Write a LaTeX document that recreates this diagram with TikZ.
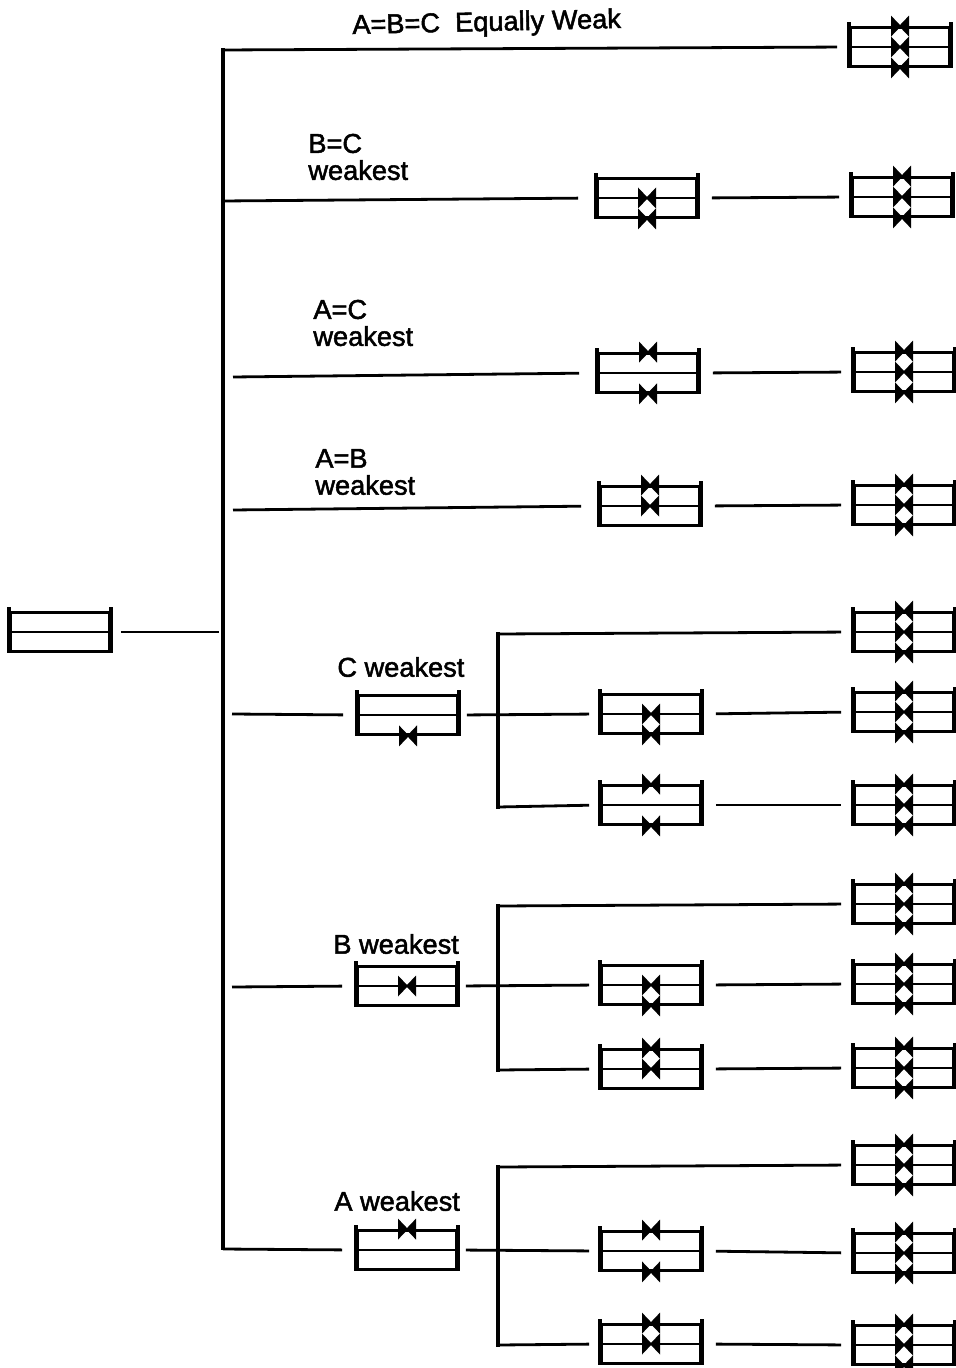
\documentclass[tikz,border=0pt]{standalone}
\usepackage{fontspec}
\setmainfont{Liberation Sans}[FakeBold=1.8]
\usetikzlibrary{arrows.meta, positioning}
\tikzset{
  plate/.style  = {rectangle, draw, line width=1.4pt, inner sep=0pt,
                   minimum width=49.5pt, minimum height=19.5pt,
                   append after command={
                     (\tikzlastnode.west) edge[line width=1.4pt] (\tikzlastnode.east)
                     ([yshift=2pt]\tikzlastnode.north west) edge[line width=2.2pt] (\tikzlastnode.south west)
                     ([yshift=2pt]\tikzlastnode.north east) edge[line width=1.7pt] (\tikzlastnode.south east)}},
  link/.style   = {line width=1.4pt, shorten <=9pt, shorten >=6pt},
  barlink/.style= {line width=1.4pt, shorten >=9pt},
  bar/.style    = {line width=2.2pt, line cap=rect},
  weakest/.style= {anchor=west, align=left, inner sep=0pt,
                   font=\fontsize{13.6}{13.5}\selectfont},
  pics/weld/.style = {code={
    \fill (-9,-10.5) .. controls (-4,-5) .. (1,0) .. controls (-4,5) .. (-9,10.5) -- cycle;
    \fill (9,-10.5) .. controls (4,-5) .. (-1,0) .. controls (4,5) .. (9,10.5) -- cycle;}},
}
\begin{document}
\begin{tikzpicture}[x=0.5pt, y=-0.5pt]
\useasboundingbox (0,0) rectangle (955,1368);

% plates
\node[plate] (start) at (60,632) {};
\foreach \n/\x/\y in {pBC/647/198, pAC/648/373, pAB/650/506,
                      pC/408/715, pCm/651/714, pCb/651/805,
                      pB/407/986, pBm/651/985, pBb/651/1069,
                      pA/407/1250, pAm/651/1251, pAb/651/1344} {
  \node[plate] (\n) at (\x,\y) {};
}
\foreach \n/\x/\y in {fEq/900/47, fBC/902/197, fAC/904/372, fAB/904/505,
                      fCt/904/632, fCm/904/712, fCb/904/805,
                      fBt/904/904, fBm/904/984, fBb/904/1068,
                      fAt/904/1165, fAm/904/1253, fAb/904/1345} {
  \node[plate] (\n) at (\x,\y) {};
  \foreach \w in {north, center, south} \pic at (\n.\w) {weld};
}

% welds
\foreach \n/\w in {pBC/center, pBC/south, pAC/north, pAC/south, pAB/north, pAB/center,
                   pC/south, pCm/center, pCm/south, pCb/north, pCb/south,
                   pB/center, pBm/center, pBm/south, pBb/north, pBb/center,
                   pA/north, pAm/north, pAm/south, pAb/north, pAb/center} {
  \pic at (\n.\w) {weld};
}

% bars
\coordinate (trunkT) at (223,50);
\coordinate (trunkB) at (223,1248);
\coordinate (trunkS) at (219,632);
\draw[bar] (trunkT) -- (trunkB);
\foreach \s/\ya/\yb in {C/634/807, B/906/1070, A/1167/1345} {
  \coordinate (\s T) at (498,\ya);
  \coordinate (\s B) at (498,\yb);
  \draw[bar, line width=1.8pt] (\s T) -- (\s B);
}

% connectors
\draw[link, shorten >=0pt, shorten <=5pt] (start.east) -- (trunkS);
\draw[link, shorten <=0pt] (trunkT) -- (fEq.west);
\coordinate (tBC) at (223,201);
\coordinate (tAC) at (233,377);
\coordinate (tAB) at (233,510);
\coordinate (tC) at (232,714);
\coordinate (tB) at (232,987);
\coordinate (tA) at (223,1249);
\draw[barlink] (tBC) -- (pBC.west);
\draw[barlink] (tAC) -- (pAC.west);
\draw[barlink] (tAB) -- (pAB.west);
\draw[barlink, shorten >=7pt] (tC) -- (pC.west);
\draw[barlink, shorten >=7pt] (tB) -- (pB.west);
\draw[barlink, shorten >=7pt] (tA) -- (pA.west);
\foreach \a/\b in {pBC/fBC, pAC/fAC, pAB/fAB, pCm/fCm, pCb/fCb,
                   pBm/fBm, pBb/fBb, pAm/fAm, pAb/fAb} {
  \draw[link, shorten <=7pt] (\a.east) -- (\b.west);
}
\foreach \s in {C, B, A} {
  \draw[link, shorten <=0pt] (\s T) -- (f\s t.west);
  \draw[link, shorten <=4pt, shorten >=5.5pt] (p\s.east) -- (p\s m.west);
  \draw[link, shorten <=0pt, shorten >=5.5pt] (\s B) -- (p\s b.west);
}

% labels
\node[weakest, rotate=1.3] (lEq) at (352,27) {A=B=C\ \ Equally Weak};
\node[weakest] (lBC) at (308,157) {B=C\\weakest};
\node[weakest] (lAC) at (313,323) {A=C\\weakest};
\node[weakest] (lAB) at (315,472) {A=B\\weakest};
\node[weakest] (lC) at (337,667) {C weakest};
\node[weakest] (lB) at (333,944) {B weakest};
\node[weakest] (lA) at (334,1201) {A weakest};

\end{tikzpicture}
\end{document}
